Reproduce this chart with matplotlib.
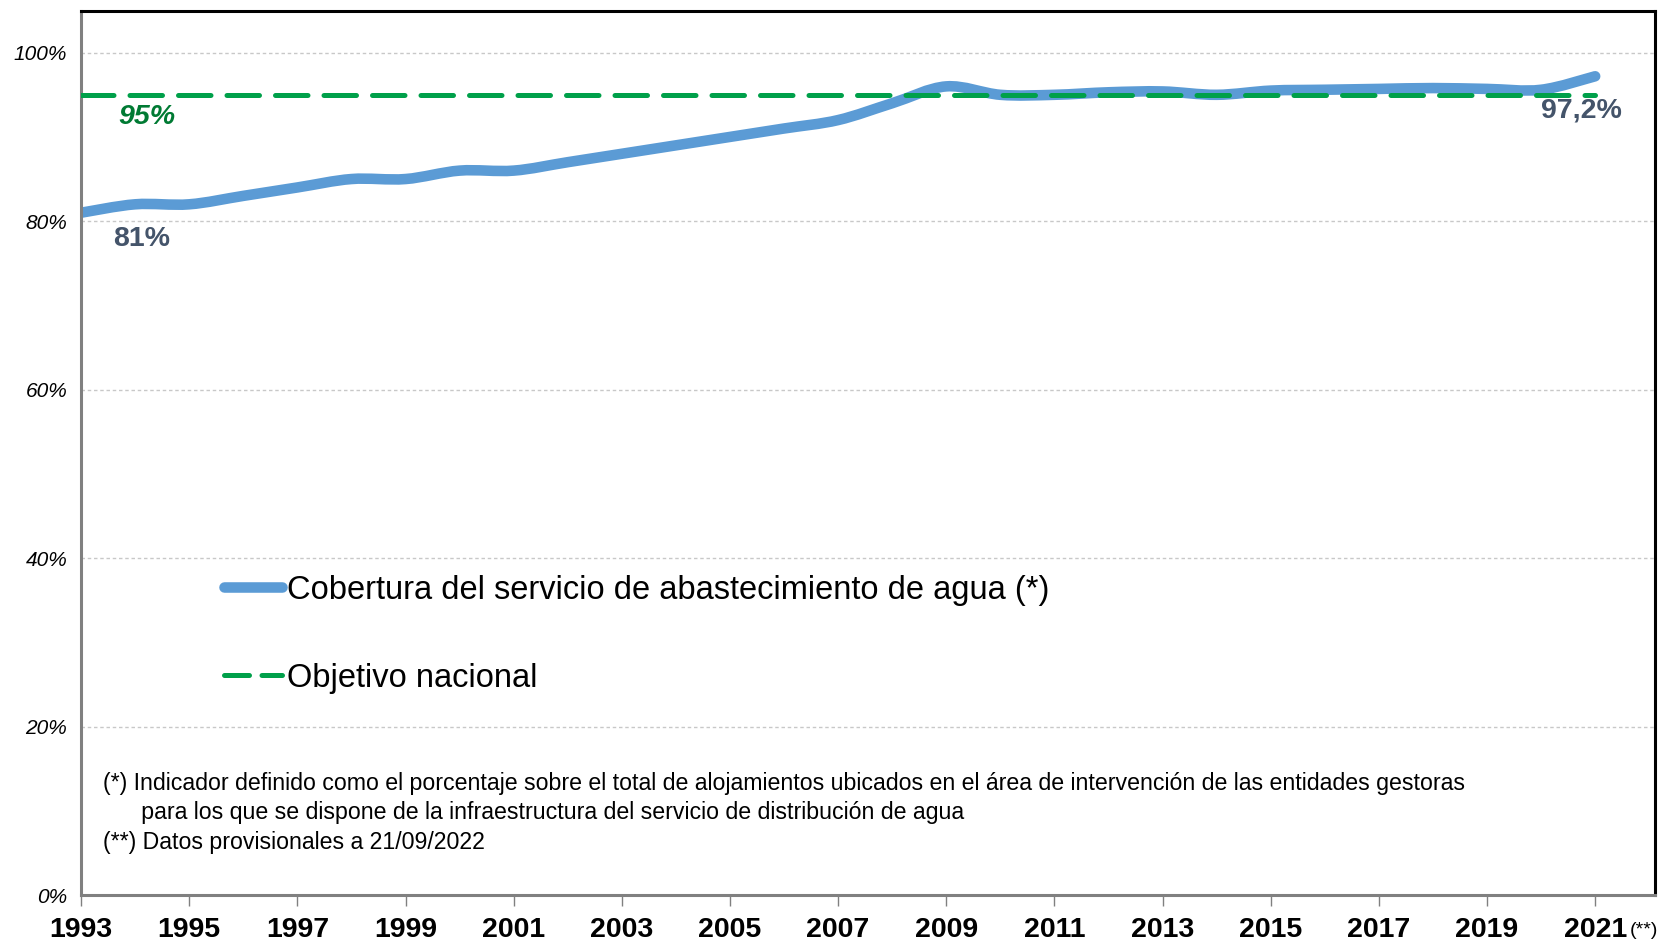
import numpy as np
import matplotlib
matplotlib.use("Agg")
import matplotlib.pyplot as plt
from matplotlib.path import Path
from matplotlib.patches import PathPatch
from matplotlib.lines import Line2D

plt.rcParams['font.family'] = ['Liberation Sans', 'DejaVu Sans']

years = list(range(1993, 2022))
coverage = [81.0, 82.0, 82.0, 83.0, 84.0, 85.0, 85.0, 86.0, 86.0, 87.0,
            88.0, 89.0, 90.0, 91.0, 92.0, 94.0, 96.0, 95.0, 95.0, 95.3,
            95.4, 95.0, 95.5, 95.6, 95.7, 95.8, 95.7, 95.6, 97.2]
target = 95.0
year_ticks = list(range(1993, 2022, 2))
y_ticks = [0, 20, 40, 60, 80, 100]

BLUE = '#5B9BD5'
GREEN = '#00A04A'
SLATE = '#44546A'


def smooth_path(x, y):
    # Excel-style smoothed line: Catmull-Rom segments as cubic Beziers
    pts = np.column_stack([x, y]).astype(float)
    n = len(pts)
    verts = [pts[0]]
    codes = [Path.MOVETO]
    for i in range(n - 1):
        p0 = pts[max(i - 1, 0)]
        p1 = pts[i]
        p2 = pts[i + 1]
        p3 = pts[min(i + 2, n - 1)]
        c1 = p1 + (p2 - p0) / 6
        c2 = p2 - (p3 - p1) / 6
        verts += [c1, c2, p2]
        codes += [Path.CURVE4] * 3
    return Path(verts, codes)


fig = plt.figure(figsize=(16.68, 9.44), dpi=100)
ax = fig.add_axes([0.0486, 0.0519, 0.9434, 0.9369])

for yv in y_ticks[1:]:
    ax.axhline(yv, color='#C8C8C8', lw=1, ls=(0, (2.5, 2)), zorder=1)

ax.plot([years[0], years[-1]], [target, target], color=GREEN, lw=3.6,
        ls=(0, (6.5, 3.2)), dash_capstyle='round', zorder=3)
ax.add_patch(PathPatch(smooth_path(years, coverage), fill=False, edgecolor=BLUE,
                       lw=7.6, capstyle='round', joinstyle='round', zorder=2))

ax.text(1994.22, 92.4, '95%', color='#007A33', fontsize=20.5, fontweight='bold',
        fontstyle='italic', ha='center', va='center')
ax.text(1994.12, 77.9, '81%', color=SLATE, fontsize=20.5, fontweight='bold',
        ha='center', va='center')
ax.text(2020.75, 93.1, '97,2%', color=SLATE, fontsize=20.5, fontweight='bold',
        ha='center', va='center')

ax.set_xlim(1993, 2022.1)
ax.set_ylim(0, 105)
ax.set_xticks(year_ticks)
ax.set_xticklabels([str(y) for y in year_ticks], fontsize=20.5, fontweight='bold')
ax.set_yticks(y_ticks)
ax.set_yticklabels([f'{v}%' for v in y_ticks], fontsize=15, fontstyle='italic')
ax.tick_params(axis='x', direction='out', length=8, width=1, color='#808080', pad=8)
ax.tick_params(axis='y', length=0, pad=10)

for side in ['top', 'right']:
    ax.spines[side].set_color('black')
    ax.spines[side].set_linewidth(2.2)
for side in ['left', 'bottom']:
    ax.spines[side].set_color('#808080')
    ax.spines[side].set_linewidth(2.2)

handles = [Line2D([], [], color=BLUE, lw=7.6, solid_capstyle='round'),
           Line2D([], [], color=GREEN, lw=3.6, ls=(0, (5, 2.5)), dash_capstyle='round')]
labels = ['Cobertura del servicio de abastecimiento de agua (*)', 'Objetivo nacional']
ax.legend(handles, labels, loc='center left', bbox_to_anchor=(0.072, 0.295),
          frameon=False, fontsize=23.5, handlelength=1.8, handletextpad=0.15,
          labelspacing=1.75)

ax.text(0.014, 0.093,
        '(*) Indicador definido como el porcentaje sobre el total de alojamientos ubicados en el área de intervención de las entidades gestoras\n'
        '      para los que se dispone de la infraestructura del servicio de distribución de agua\n'
        '(**) Datos provisionales a 21/09/2022',
        transform=ax.transAxes, fontsize=16.7, ha='left', va='center', linespacing=1.35)

fig.text(0.9856, 0.014, '(**)', fontsize=14, ha='center', va='center')

fig.savefig('out.png', dpi=100)
